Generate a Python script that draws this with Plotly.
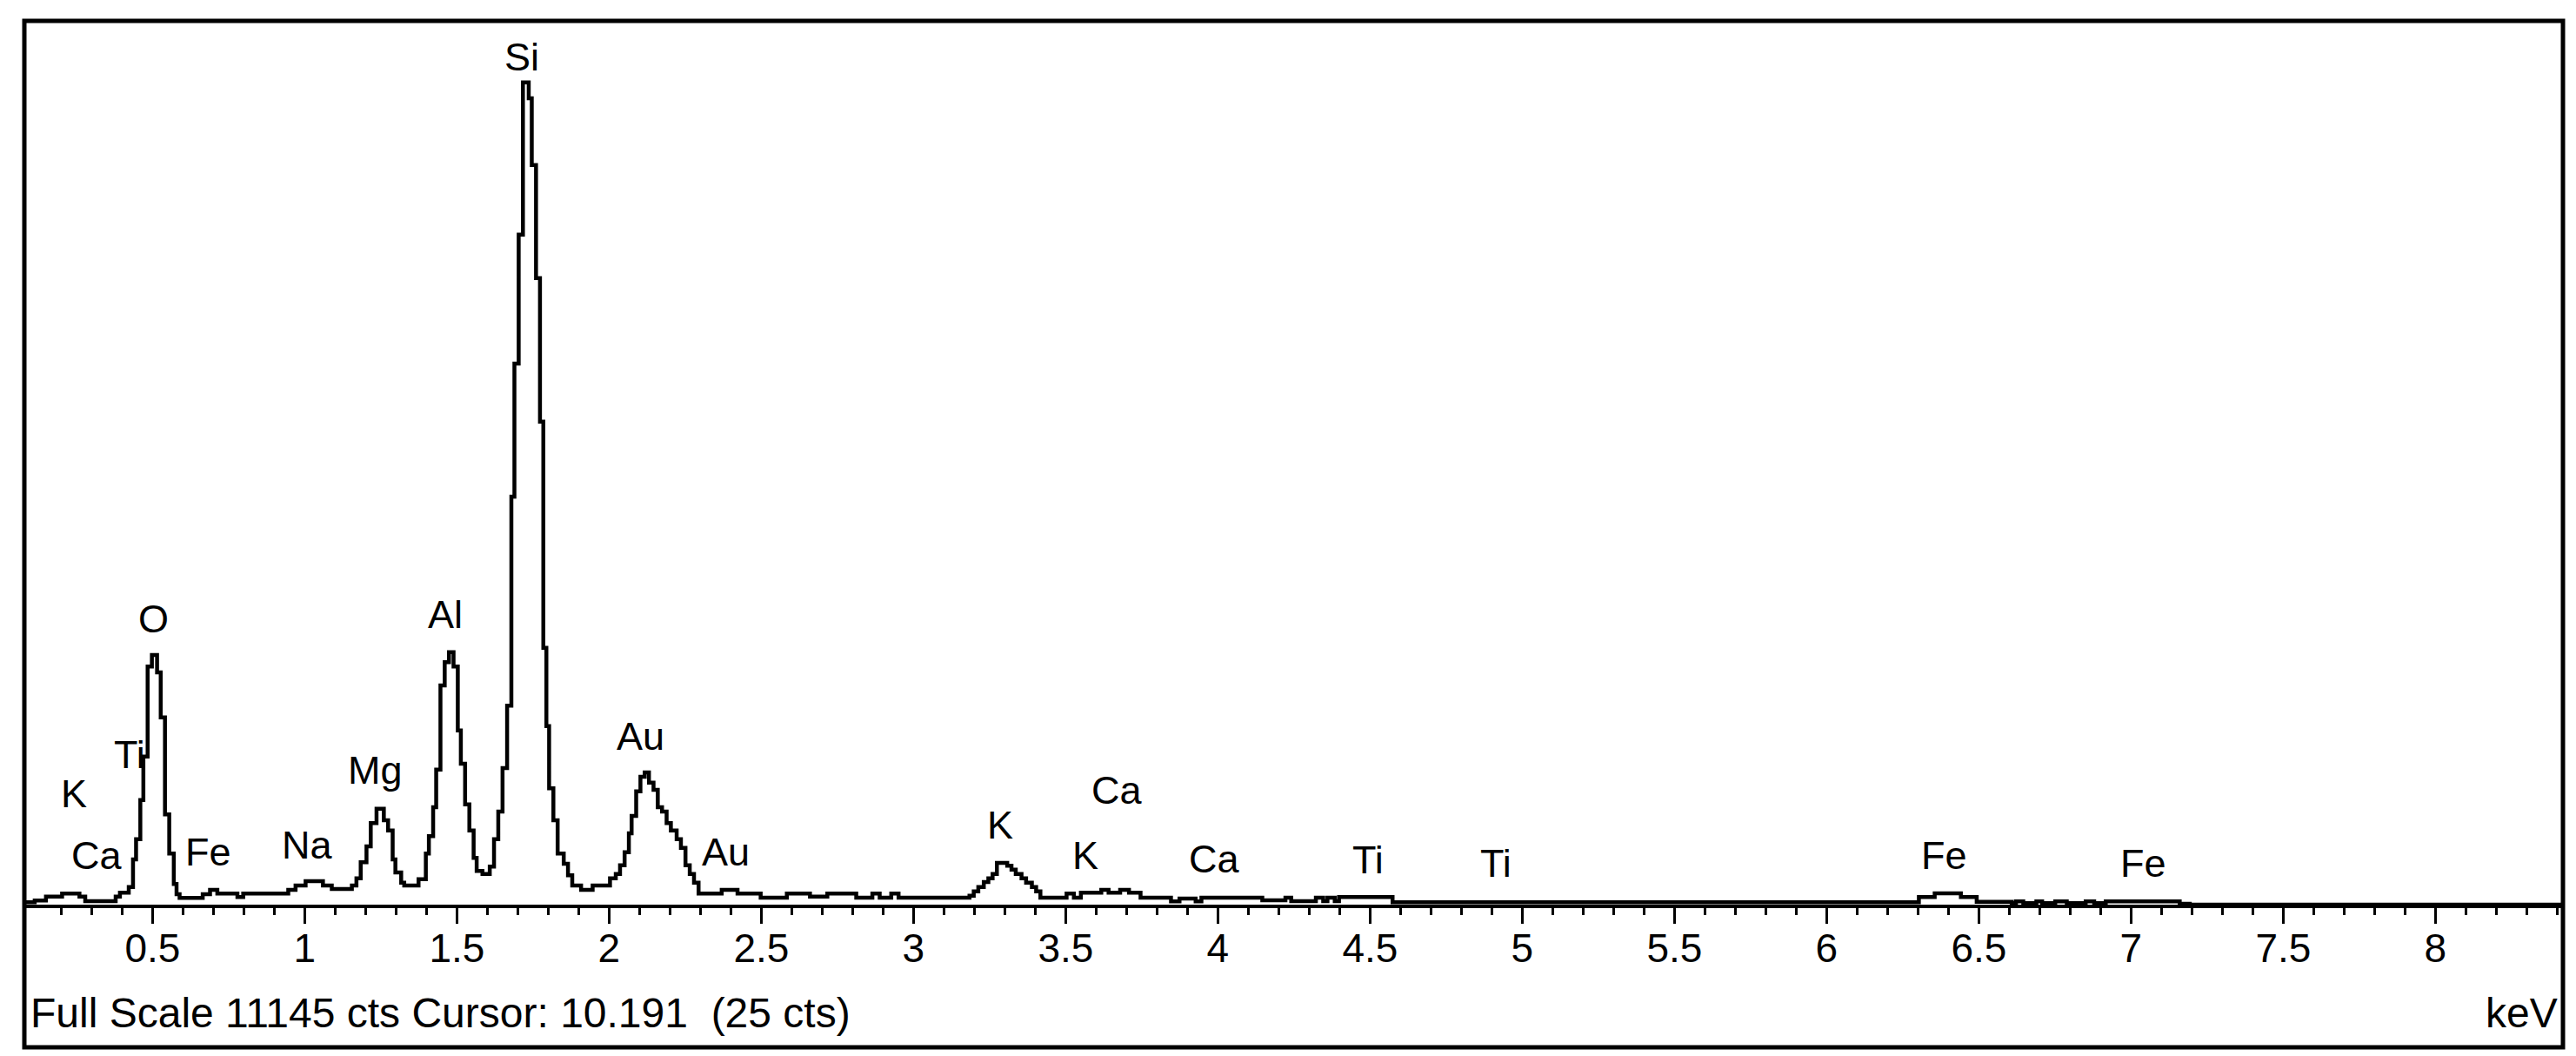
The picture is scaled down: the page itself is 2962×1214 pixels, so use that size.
import plotly.graph_objects as go

# EDS spectrum (energy in keV, counts)
kev = [0.076, 0.113, 0.150, 0.203, 0.260, 0.279, 0.379, 0.393, 0.422, 0.436,
       0.446, 0.460, 0.470, 0.484, 0.498, 0.515, 0.527, 0.541, 0.555, 0.570,
       0.579, 0.589, 0.665, 0.689, 0.713, 0.779, 0.798, 0.946, 0.970, 1.003,
       1.060, 1.089, 1.155, 1.170, 1.184, 1.203, 1.217, 1.236, 1.260, 1.274,
       1.289, 1.298, 1.317, 1.327, 1.374, 1.398, 1.408, 1.422, 1.432, 1.446,
       1.460, 1.474, 1.489, 1.503, 1.513, 1.527, 1.541, 1.555, 1.565, 1.584,
       1.608, 1.622, 1.636, 1.650, 1.665, 1.679, 1.689, 1.703, 1.717, 1.736,
       1.746, 1.760, 1.773, 1.784, 1.794, 1.803, 1.817, 1.831, 1.851, 1.865,
       1.879, 1.908, 1.946, 2.003, 2.022, 2.036, 2.051, 2.065, 2.074, 2.089,
       2.103, 2.117, 2.131, 2.146, 2.160, 2.174, 2.189, 2.203, 2.222, 2.236,
       2.251, 2.265, 2.279, 2.294, 2.370, 2.422, 2.498, 2.584, 2.660, 2.717,
       2.812, 2.865, 2.889, 2.927, 2.951, 3.184, 3.198, 3.213, 3.231, 3.246,
       3.260, 3.274, 3.308, 3.322, 3.336, 3.355, 3.370, 3.389, 3.403, 3.417,
       3.503, 3.527, 3.550, 3.617, 3.641, 3.679, 3.708, 3.746, 3.846, 3.874,
       3.927, 3.946, 4.146, 4.222, 4.241, 4.322, 4.346, 4.360, 4.384, 4.398,
       4.574, 5.708, 6.303, 6.355, 6.441, 6.493, 6.608, 6.622, 6.646, 6.689,
       6.708, 6.751, 6.789, 6.851, 6.879, 6.917, 7.160, 7.193, 8.419]
counts = [30, 51, 102, 139, 102, 45, 102, 150, 223, 570,
          826, 1320, 1868, 3003, 3148, 2929, 2362, 1138, 644, 260,
          132, 84, 132, 186, 139, 95, 139, 186, 241, 296,
          241, 197, 241, 333, 534, 735, 1028, 1210, 1064, 936,
          570, 406, 278, 241, 322, 644, 863, 1229, 1704, 2764,
          3057, 3185, 3003, 2197, 1777, 1265, 936, 589, 424, 387,
          479, 826, 1174, 1722, 2509, 5145, 6823, 8450, 10370, 10169,
          9328, 7902, 6092, 3239, 2252, 1467, 1064, 644, 516, 370,
          241, 186, 241, 333, 387, 497, 662, 900, 1119, 1430,
          1613, 1667, 1539, 1448, 1229, 1174, 1028, 936, 826, 716,
          497, 387, 278, 139, 186, 139, 88, 139, 102, 139,
          88, 139, 88, 139, 88, 113, 168, 223, 285, 333,
          387, 527, 490, 442, 387, 333, 278, 223, 168, 88,
          139, 88, 150, 186, 150, 186, 150, 88, 40, 77,
          40, 88, 55, 88, 44, 88, 44, 88, 44, 95,
          30, 30, 95, 143, 95, 35, 20, 40, 20, 40,
          20, 40, 20, 40, 20, 40, 10, 0, 0]

# peak labels
label_text = ["K", "Ti", "Ca", "O", "Fe", "Na", "Mg", "Al", "Si", "Au", "Au",
              "Ca", "K", "K", "Ca", "Ti", "Ti", "Fe", "Fe"]
label_kev = [0.241, 0.425, 0.316, 0.502, 0.682, 1.008, 1.231, 1.462, 1.713,
             2.102, 2.382, 3.668, 3.285, 3.565, 3.988, 4.494, 4.913, 6.385, 7.039]
label_cts = [1338, 1821, 549, 3543, 603, 691, 1624, 3598, 10619,
             2062, 603, 1382, 943, 549, 505, 494, 450, 549, 450]

major_ticks = [0.5, 1, 1.5, 2, 2.5, 3, 3.5, 4, 4.5, 5, 5.5, 6, 6.5, 7, 7.5, 8]
major_text = ["0.5", "1", "1.5", "2", "2.5", "3", "3.5", "4", "4.5", "5",
              "5.5", "6", "6.5", "7", "7.5", "8"]
minor_ticks = [round(0.1 * i, 1) for i in range(2, 85) if i % 5 != 0]

full_scale = 11145
footer = "Full Scale 11145 cts Cursor: 10.191  (25 cts)"

FONT = "Liberation Sans"

fig = go.Figure()
fig.add_trace(go.Scatter(x=kev, y=counts, mode="lines", line_shape="hv",
                         line=dict(color="black", width=4.5),
                         hoverinfo="skip", showlegend=False))

for t, xk, yc in zip(label_text, label_kev, label_cts):
    fig.add_annotation(x=xk, y=yc, text=t, showarrow=False,
                       xanchor="center", yanchor="middle", yshift=6,
                       font=dict(family=FONT, size=45, color="black"))

fig.add_annotation(xref="paper", yref="paper", x=0.0017, y=0, yshift=-124,
                   text=footer, showarrow=False, xanchor="left", yanchor="middle",
                   font=dict(family=FONT, size=48, color="black"))
fig.add_annotation(xref="paper", yref="paper", x=0.9985, y=0, yshift=-124,
                   text="keV", showarrow=False, xanchor="right", yanchor="middle",
                   font=dict(family=FONT, size=48, color="black"))

# outer frame round plot and footer
fig.add_shape(type="rect", xref="paper", yref="paper",
              x0=0, x1=1, y0=-0.1614, y1=1,
              line=dict(color="black", width=5), fillcolor="rgba(0,0,0,0)")

fig.update_layout(
    width=2962, height=1214,
    margin=dict(l=20, r=23, t=16, b=182),
    paper_bgcolor="white", plot_bgcolor="white",
    font=dict(family=FONT, size=46, color="black"),
)
fig.update_xaxes(range=[0.079, 8.419], showgrid=False, zeroline=False,
                 showline=True, linewidth=4, linecolor="black",
                 tickvals=major_ticks, ticktext=major_text,
                 ticks="outside", ticklen=18, tickwidth=3, tickcolor="black",
                 ticklabelstandoff=-11,
                 tickfont=dict(family=FONT, size=46, color="black"),
                 minor=dict(tickvals=minor_ticks, ticks="outside", ticklen=8,
                            tickwidth=3, tickcolor="black", showgrid=False))
fig.update_yaxes(range=[0, full_scale], visible=False, showgrid=False)

fig.write_html("out.html")
